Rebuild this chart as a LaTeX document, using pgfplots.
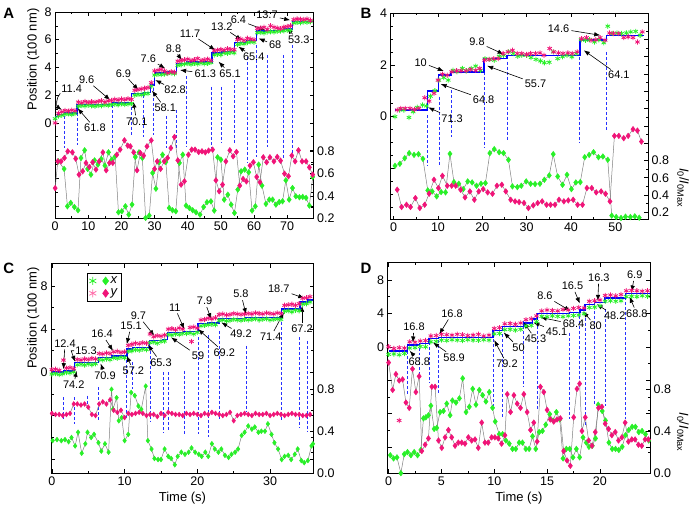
\documentclass[border=0pt]{standalone}
\usepackage{fontspec}
\setmainfont{Liberation Sans}
\usepackage{pgfplots}
\pgfplotsset{compat=1.18}
\usetikzlibrary{arrows.meta}
\definecolor{grn}{RGB}{40,240,40}
\definecolor{pnk}{RGB}{240,20,120}
\definecolor{lpnk}{RGB}{255,110,170}
\definecolor{blu}{RGB}{0,0,255}
\definecolor{dblu}{RGB}{40,50,255}
\pgfplotsset{
  panel/.style={scale only axis, clip=false, anchor=south west, enlargelimits=false,
    tick label style={font=\fontsize{12.5}{14}\selectfont},
    /pgf/number format/assume math mode=true,
    major tick length=4pt, minor tick length=2.5pt,
    every tick/.style={black, line width=0.6pt},
    axis line style={line width=0.7pt},
    label style={font=\fontsize{13}{15}\selectfont}},
  rpanel/.style={panel, axis x line=none, axis y line*=right, scaled y ticks=false,
    yticklabel style={/pgf/number format/fixed, /pgf/number format/fixed zerofill, /pgf/number format/precision=1}},
  xs/.style={only marks, mark=asterisk, mark size=2.6pt, color=grn, mark options={line width=0.8pt}},
  ys/.style={only marks, mark=asterisk, mark size=2.6pt, color=pnk, mark options={line width=0.8pt}},
  xd/.style={color=gray, line width=0.5pt, mark=diamond*, mark size=2.8pt, mark options={draw=grn, fill=grn}},
  yd/.style={color=gray, line width=0.5pt, mark=diamond*, mark size=2.8pt, mark options={draw=pnk, fill=pnk}},
  stepl/.style={color=blu, line width=1.5pt, const plot, no marks},
  vdash/.style={color=dblu, line width=1pt, dash pattern=on 3pt off 2pt, unbounded coords=jump, no marks},
}
\newcommand{\ann}[5]{\node[font=\fontsize{11}{13}\selectfont, inner sep=1pt] (a) at (axis cs:#1,#2) {#5};
  \draw[-{Latex[length=6pt,width=4.5pt]}, line width=0.6pt, shorten <=1pt] (a) -- (axis cs:#3,#4);}
\newcommand{\ratiolabel}{\textit{I}\textsubscript{0}/\textit{I}\textsubscript{0Max}}

\begin{document}
\begin{tikzpicture}
\path (0pt,0pt) rectangle (698pt,511pt);
\node[font=\fontsize{15}{15}\selectfont\bfseries] at (7.5pt,498pt) {A};
\node[font=\fontsize{15}{15}\selectfont\bfseries] at (365.5pt,498pt) {B};
\node[font=\fontsize{15}{15}\selectfont\bfseries] at (7.5pt,242pt) {C};
\node[font=\fontsize{15}{15}\selectfont\bfseries] at (365.5pt,242pt) {D};

% ---------------- Panel A ----------------
\begin{axis}[panel, at={(54pt,292pt)}, width=259pt, height=207pt,
  xmin=0, xmax=78, ymin=-6.9, ymax=8,
  xtick={0,10,...,70}, minor x tick num=1,
  ytick={-6,-4,-2,0,2,4,6,8}, yticklabels={,,,0,2,4,6,8}, minor y tick num=1,
  ylabel={Position (100 nm)}, ylabel style={at={(rel axis cs:-0.085,0.77)}, anchor=center}]
\addplot[vdash] coordinates {(2.8,0.5) (2.8,-1.8) (2.8,nan) (6.6,1.08) (6.6,-1.58) (6.6,nan)
  (17.3,1.29) (17.3,-1.8) (17.3,nan) (23.1,1.87) (23.1,-0.86) (23.1,nan) (26.6,2.0) (26.6,-1.0) (26.6,nan)
  (29.6,2.5) (29.6,-0.86) (29.6,nan) (33.5,0.5) (33.5,-1.8) (33.5,nan) (36.5,0.94) (36.5,-1.8) (36.5,nan)
  (39.7,3.38) (39.7,-1.73) (39.7,nan) (47.3,2.59) (47.3,-1.8) (47.3,nan) (50.3,2.59) (50.3,-1.44) (50.3,nan)
  (54.1,3.09) (54.1,-1.58) (54.1,nan) (57.9,4.75) (57.9,-2.81) (57.9,nan) (60.7,5.61) (60.7,-2.45) (60.7,nan)
  (64.0,4.89) (64.0,-1.73) (64.0,nan) (68.9,4.89) (68.9,-2.66) (68.9,nan) (71.6,5.61) (71.6,-2.66)};
\addplot[xs] coordinates {(0,0.3) (1,0.5) (2,0.55) (3,0.62) (4,0.66) (5,0.6) (6,0.68) (7,1.2) (8,1.25) (9,1.22)
  (10,1.28) (11,1.24) (12,1.2) (13,1.26) (14,1.23) (15,1.3) (16,1.25) (17,1.33) (18,1.35) (19,1.3)
  (20,1.38) (21,1.33) (22,1.36) (23,1.4) (24,2.0) (25,2.05) (26,2.02) (27,2.1) (28,2.12) (29,2.65)
  (30,3.45) (31,3.5) (32,3.48) (33,3.52) (34,3.56) (35,3.6) (36,3.55) (37,4.15) (38,4.2) (39,4.25)
  (40,4.28) (41,4.22) (42,4.3) (43,4.25) (44,4.32) (45,4.27) (46,4.3) (47,4.35) (48,4.9) (49,4.95)
  (50,4.92) (51,5.05) (52,5.02) (53,5.08) (54,5.05) (55,5.65) (56,5.72) (57,5.7) (58,5.8) (59,5.85)
  (60,5.82) (61,6.5) (62,6.52) (63,6.48) (64,6.55) (65,6.58) (66,6.55) (67,6.6) (68,6.62) (69,6.65)
  (70,6.68) (71,6.7) (72,7.2) (73,7.25) (74,7.22) (75,7.28) (76,7.25) (77,7.3)};
\addplot[ys] coordinates {(0,0.0) (1,0.7) (2,0.8) (3,0.9) (4,0.85) (5,0.92) (6,0.88) (7,1.5) (8,1.45) (9,1.55)
  (10,1.48) (11,1.52) (12,1.5) (13,1.55) (14,1.6) (15,1.5) (16,1.58) (17,1.62) (18,1.7) (19,1.65)
  (20,1.72) (21,1.68) (22,1.75) (23,1.7) (24,2.35) (25,2.4) (26,2.45) (27,2.5) (28,2.55) (29,2.9)
  (30,3.75) (31,3.8) (32,3.85) (33,3.75) (34,3.6) (35,3.7) (36,3.65) (37,4.45) (38,4.5) (39,4.55)
  (40,4.6) (41,4.5) (42,4.55) (43,4.65) (44,4.5) (45,4.55) (46,4.6) (47,4.5) (48,5.2) (49,5.25)
  (50,5.3) (51,5.25) (52,5.35) (53,5.3) (54,5.28) (55,6.0) (56,6.05) (57,5.95) (58,6.1) (59,6.05)
  (60,6.0) (61,6.8) (62,6.85) (63,6.9) (64,6.75) (65,7.0) (66,6.9) (67,6.85) (68,6.8) (69,6.9)
  (70,6.95) (71,7.0) (72,7.45) (73,7.5) (74,7.48) (75,7.45) (76,7.5) (77,7.4)};
\addplot[stepl] coordinates {(0,0.45) (0.8,0.6) (2.8,0.714) (6.6,1.332) (17.3,1.428) (23.1,2.129)
  (26.6,2.198) (28.7,2.75) (29.9,3.6) (33.5,3.68) (36.6,4.3) (39.7,4.4) (47.3,5.04) (50.3,5.15)
  (54.1,5.8) (57.9,5.94) (60.7,6.62) (64.0,6.68) (68.9,6.78) (71.6,7.33) (78,7.33)};
\node[font=\fontsize{11}{13}\selectfont, inner sep=1pt] (a) at (axis cs:5.0,2.49) {11.4};
\draw[-{Latex[length=6pt,width=4.5pt]}, line width=0.6pt] (a.south west) to[bend right=50] (axis cs:2.0,0.94);
\ann{12.0}{-0.38}{6.8}{1.05}{61.8}
\ann{9.5}{3.09}{16.6}{1.65}{9.6}
\ann{20.6}{3.57}{25.1}{2.37}{6.9}
\ann{24.6}{0.1}{23.6}{1.53}{70.1}
\ann{33.2}{1.06}{29.2}{2.33}{58.1}
\ann{36.2}{2.37}{30.2}{3.09}{82.8}
\ann{28.1}{4.65}{33.2}{3.93}{7.6}
\ann{35.7}{5.37}{38.2}{4.53}{8.8}
\ann{45.3}{3.57}{37.7}{3.81}{61.3}
\ann{40.7}{6.45}{48.3}{5.25}{11.7}
\ann{52.8}{3.57}{49.3}{4.41}{65.1}
\ann{50.3}{6.93}{56.3}{5.97}{13.2}
\ann{59.9}{4.77}{55.3}{5.49}{65.4}
\ann{55.3}{7.41}{63.4}{6.69}{6.4}
\ann{66.4}{5.61}{61.4}{6.09}{68}
\ann{63.9}{7.77}{70.9}{7.41}{13.7}
\ann{73.5}{5.97}{69.9}{6.81}{53.3}
\end{axis}
\begin{axis}[rpanel, at={(54pt,292pt)}, width=259pt, height=207pt,
  xmin=0, xmax=78, ymin=0.2, ymax=2.03,
  ytick={0.2,0.4,0.6,0.8}, minor ytick={0.3,0.5,0.7}]
\addplot[xd] coordinates {(1.0,0.707) (2.7,0.64) (3.7,0.309) (4.7,0.339) (5.8,0.303) (6.9,0.274) (7.8,0.737)
  (8.9,0.805) (9.8,0.64) (10.8,0.589) (11.9,0.716) (12.9,0.678) (13.9,0.728) (15.0,0.669) (16.1,0.787)
  (17.1,0.722) (18.1,0.75) (19.1,0.256) (20.1,0.265) (21.2,0.309) (22.2,0.235) (23.2,0.324) (24.2,0.746)
  (25.3,0.787) (26.3,0.737) (27.3,0.206) (28.4,0.227) (29.4,0.604) (30.4,0.465) (31.4,0.699) (32.4,0.766)
  (33.4,0.701) (34.4,0.294) (35.4,0.274) (36.4,0.265) (37.5,0.693) (38.5,0.766) (39.5,0.315) (40.5,0.294)
  (41.5,0.274) (42.5,0.256) (43.7,0.235) (44.8,0.303) (45.8,0.345) (47.0,0.353) (48.0,0.271) (49.0,0.743)
  (50.0,0.722) (51.0,0.368) (52.1,0.412) (53.1,0.324) (54.1,0.25) (55.1,0.457) (56.1,0.619) (57.2,0.634)
  (58.4,0.61) (59.4,0.271) (60.4,0.309) (61.4,0.678) (62.4,0.492) (63.6,0.33) (64.6,0.368) (65.6,0.368)
  (66.6,0.324) (67.6,0.347) (68.6,0.353) (69.6,0.539) (70.6,0.368) (71.6,0.471) (72.6,0.398) (73.7,0.389)
  (74.7,0.392) (75.7,0.383) (76.7,0.315) (77.7,0.569)};
\addplot[yd] coordinates {(0,0.47) (0.8,0.707) (1.8,0.707) (2.8,0.737) (3.8,0.796) (5.2,0.787) (6.2,0.731)
  (7.2,0.589) (8.3,0.619) (9.3,0.693) (10.3,0.657) (11.3,0.699) (12.3,0.634) (13.3,0.707) (14.4,0.787)
  (15.4,0.628) (16.4,0.693) (17.4,0.693) (18.6,0.766) (19.6,0.811) (20.9,0.893) (21.9,0.846) (22.7,0.84)
  (23.7,0.787) (24.7,0.628) (25.7,0.781) (26.7,0.758) (27.7,0.84) (29.0,0.893) (30.0,0.64) (30.8,0.707)
  (31.8,0.64) (32.9,0.707) (33.9,0.737) (34.9,0.825) (36.0,0.923) (37.0,0.716) (38.0,0.501) (39.0,0.53)
  (40.2,0.766) (41.2,0.811) (42.2,0.811) (43.3,0.79) (44.3,0.796) (45.3,0.787) (46.3,0.802) (47.5,0.811)
  (48.5,0.539) (49.5,0.442) (50.5,0.501) (51.5,0.707) (52.7,0.805) (53.7,0.752) (54.7,0.79) (55.7,0.492)
  (56.7,0.551) (57.7,0.53) (58.8,0.669) (59.8,0.699) (60.8,0.569) (61.8,0.522) (62.8,0.743) (63.8,0.699)
  (64.8,0.743) (66.0,0.707) (67.0,0.746) (68.0,0.713) (69.2,0.598) (70.4,0.575) (71.4,0.758) (72.4,0.707)
  (73.4,0.805) (74.5,0.707) (75.7,0.707) (76.7,0.654) (77.7,0.589)};
\end{axis}

% ---------------- Panel B ----------------
\begin{axis}[panel, at={(390pt,291pt)}, width=258pt, height=207pt,
  xmin=-0.7, xmax=57.4, ymin=-3.97, ymax=4,
  xtick={0,10,...,50}, minor x tick num=1,
  ytick={-2,0,2,4}, yticklabels={,0,2,4}, minor ytick={-3.5,-3,...,3.5}, ytick pos=left]
\addplot[vdash] coordinates {(7.7,0.06) (7.7,-1.92) (7.7,nan) (10.3,0.77) (10.3,-1.86) (10.3,nan)
  (13.0,1.03) (13.0,-0.77) (13.0,nan) (20.6,1.92) (20.6,-1.2) (20.6,nan) (25.7,2.12) (25.7,-0.96) (25.7,nan)
  (42.0,2.69) (42.0,-1.01) (42.0,nan) (48.0,2.5) (48.0,-0.51)};
\addplot[xs] coordinates {(0.3,0) (1.35,0.26) (2.3,0.26) (3.45,-0.03) (4.4,0.19) (5.3,0.36) (6.5,0.45) (7.4,0.41)
  (8.3,0.79) (9.3,1.0) (10.2,1.41) (11.3,1.51) (12.3,1.41) (13.4,1.79) (14.3,1.73) (15.5,1.86) (16.4,1.77)
  (17.5,1.86) (18.5,1.95) (19.6,1.79) (20.6,2.24) (21.7,2.21) (22.7,2.18) (23.8,2.33) (24.8,2.37) (25.9,2.5)
  (27.0,2.44) (28.0,2.33) (28.9,2.37) (30.0,2.37) (31.0,2.28) (32.1,2.21) (33.1,2.15) (34.0,2.08) (35.1,2.1)
  (36.0,2.5) (37.0,2.24) (38.1,2.31) (39.1,2.37) (40.2,2.31) (41.2,2.44) (42.3,2.97) (43.3,2.95) (44.2,2.97)
  (45.3,2.88) (46.3,2.97) (47.4,2.85) (48.3,3.49) (49.3,3.21) (50.4,3.23) (51.4,3.21) (52.5,3.23) (53.5,3.27)
  (54.6,3.29) (55.6,3.14)};
\addplot[ys] coordinates {(0.8,0.26) (1.6,0.32) (2.6,0.32) (3.7,0.32) (4.7,0.28) (5.7,0.32) (7.0,0.73) (8.0,0.6)
  (9.1,0.9) (10.0,1.41) (11.0,1.64) (12.1,1.6) (13.1,1.73) (14.2,1.77) (15.2,1.77) (16.3,1.77) (17.3,1.82)
  (18.5,1.79) (19.4,1.86) (20.5,2.18) (21.5,2.21) (22.6,2.24) (23.6,2.24) (24.7,2.44) (25.8,2.5) (26.8,2.56)
  (27.9,2.44) (28.9,2.44) (30.0,2.4) (30.9,2.44) (32.0,2.44) (33.0,2.46) (33.9,2.37) (35.2,2.63) (36.1,2.5)
  (37.2,2.46) (38.2,2.44) (39.3,2.46) (40.3,2.44) (41.4,2.5) (42.4,3.01) (43.5,3.05) (44.5,2.95) (45.6,2.97)
  (46.6,3.05) (47.7,2.95) (48.7,3.23) (49.6,3.21) (50.8,3.21) (51.9,3.05) (52.9,3.08) (54.0,3.05) (55.0,2.88)
  (56.1,3.27)};
\addplot[stepl] coordinates {(0.3,0.26) (7.6,0.99) (10.1,1.6) (12.9,1.73) (20.4,2.24) (25.6,2.35) (42,2.95)
  (48,3.14) (56.4,3.14)};
\ann{6.1}{2.1}{11.3}{1.76}{10}
\ann{20.3}{0.67}{10.6}{1.26}{64.8}
\ann{13.2}{-0.06}{7.8}{0.36}{71.3}
\ann{18.8}{2.88}{24.8}{2.41}{9.8}
\ann{32.0}{1.28}{21.1}{1.96}{55.7}
\ann{37.2}{3.4}{46.6}{3.14}{14.6}
\ann{50.8}{1.6}{42.9}{2.56}{64.1}
\end{axis}
\begin{axis}[rpanel, at={(390pt,291pt)}, width=258pt, height=207pt,
  xmin=-0.7, xmax=57.4, ymin=0.116, ymax=2.507,
  ytick={0.2,0.4,0.6,0.8}, extra y ticks={1.0,1.2,...,2.41}, extra y tick labels={},
  minor ytick={0.3,0.5,...,2.5}]
\node[rotate=-90, font=\fontsize{13}{15}\selectfont] at (rel axis cs:1.136,0.155) {\ratiolabel};
\addplot[xd] coordinates {(0.3,0.738) (1.4,0.762) (2.5,0.827) (3.5,0.885) (4.6,0.865) (5.6,0.873) (6.6,0.819)
  (7.7,0.454) (8.7,0.442) (9.7,0.385) (10.7,0.435) (11.7,0.431) (12.7,0.877) (13.6,0.55) (14.7,0.531)
  (15.7,0.469) (16.7,0.558) (17.7,0.546) (18.7,0.508) (19.7,0.531) (20.7,0.538) (21.7,0.885) (22.7,0.931)
  (23.8,0.896) (24.8,0.885) (25.9,0.808) (26.8,0.5) (27.9,0.492) (28.8,0.508) (29.9,0.558) (30.9,0.531)
  (31.9,0.527) (33.0,0.531) (34.0,0.577) (35.1,0.627) (36.0,0.873) (37.0,0.615) (38.1,0.519) (39.1,0.635)
  (40.1,0.469) (41.1,0.546) (42.1,0.55) (43.1,0.838) (44.1,0.865) (45.1,0.896) (46.2,0.838) (47.2,0.846)
  (48.3,0.808) (49.2,0.162) (50.2,0.146) (51.3,0.135) (52.3,0.15) (53.4,0.146) (54.4,0.154) (55.4,0.138)};
\addplot[yd] coordinates {(0.8,0.462) (1.8,0.262) (2.9,0.288) (3.8,0.262) (4.9,0.365) (5.9,0.25) (7.0,0.288)
  (8.0,0.415) (9.1,0.577) (10.1,0.481) (11.0,0.623) (12.1,0.508) (13.1,0.508) (14.0,0.508) (15.1,0.462)
  (16.1,0.373) (17.2,0.442) (18.2,0.346) (19.2,0.442) (20.2,0.469) (21.2,0.431) (22.3,0.415) (23.3,0.508)
  (24.4,0.519) (25.3,0.442) (26.4,0.346) (27.4,0.327) (28.3,0.319) (29.4,0.308) (30.4,0.25) (31.5,0.281)
  (32.5,0.308) (33.5,0.327) (34.5,0.288) (35.4,0.288) (36.4,0.288) (37.3,0.346) (38.4,0.327) (39.4,0.338)
  (40.5,0.346) (41.5,0.288) (42.6,0.288) (43.6,0.481) (44.7,0.481) (45.7,0.431) (46.8,0.442) (47.8,0.415)
  (48.8,0.327) (49.8,1.085) (50.8,1.085) (51.9,1.058) (52.9,1.085) (54.0,1.162) (55.0,1.146) (55.9,1.019)};
\end{axis}

% ---------------- Panel C ----------------
\begin{axis}[panel, at={(50pt,37pt)}, width=263pt, height=210pt,
  xmin=-0.1, xmax=36, ymin=-9.3, ymax=10.06,
  xtick={0,10,20,30}, minor x tick num=1,
  ytick={-8,-4,0,4,8}, yticklabels={,,0,4,8}, minor y tick num=1,
  xlabel={Time (s)},
  ylabel={Position (100 nm)}, ylabel style={at={(rel axis cs:-0.068,0.74)}, anchor=center}]
\addplot[vdash] coordinates {(1.6,-2.31) (1.6,-4.31) (1.6,nan) (3.1,-2.31) (3.1,-4.77) (3.1,nan)
  (4.9,-2.15) (4.9,-3.38) (4.9,nan) (6.4,-1.38) (6.4,-4.55) (6.4,nan) (10.3,1.14) (10.3,-4.31) (10.3,nan)
  (11.1,0.92) (11.1,-1.54) (11.1,nan) (13.5,2.46) (13.5,-4.55) (13.5,nan) (15.3,0) (15.3,-5.54) (15.3,nan)
  (16.0,0) (16.0,-5.38) (16.0,nan) (18.2,0.15) (18.2,-5.69) (18.2,nan) (20.1,3.23) (20.1,-5.69) (20.1,nan)
  (21.5,3.45) (21.5,-6.0) (21.5,nan) (23.0,3.85) (23.0,-4.31) (23.0,nan) (26.7,2.46) (26.7,-3.54) (26.7,nan)
  (31.6,5.08) (31.6,-4.46) (31.6,nan) (34.1,3.23) (34.1,-5.08) (34.1,nan) (35.2,2.92) (35.2,-5.54)};
\addplot[xs] coordinates {(0,-0.15) (0.5,-0.1) (1,-0.2) (1.5,-0.12) (2,0.0) (2.5,-0.05) (3,0.05) (3.5,0.7)
  (4,0.75) (4.5,0.68) (5,0.78) (5.5,0.72) (6,0.8) (6.5,1.2) (7,1.15) (7.5,1.25) (8,1.18) (8.5,1.35) (9,1.3)
  (9.5,1.4) (10,1.35) (10.5,1.95) (11,2.0) (11.5,2.1) (12,2.05) (12.5,2.15) (13,2.1) (13.5,2.75) (14,2.8)
  (14.5,2.7) (15,2.85) (15.5,2.9) (16,3.5) (16.5,3.45) (17,3.55) (17.5,3.5) (18,3.6) (18.5,3.6) (19,3.65)
  (19.5,3.55) (20,3.7) (20.5,4.3) (21,4.35) (21.5,4.4) (22,4.45) (22.5,4.4) (23,4.8) (23.5,4.85) (24,4.75)
  (24.5,4.8) (25,4.9) (25.5,4.85) (26,4.8) (26.5,4.9) (27,4.85) (27.5,4.9) (28,4.95) (28.5,4.85) (29,4.9)
  (29.5,4.95) (30,4.85) (30.5,4.9) (31,4.95) (31.5,4.9) (32,5.65) (32.5,5.7) (33,5.6) (33.5,5.75) (34,5.7)
  (34.5,6.3) (35,6.35) (35.5,6.5)};
\addplot[ys] coordinates {(0,0.25) (0.5,0.3) (1,0.2) (1.6,1.14) (2,0.4) (2.5,0.45) (3,0.35) (3.5,1.2) (4,1.15)
  (4.5,1.25) (5,1.2) (5.5,1.3) (6,1.25) (6.5,1.75) (7,1.7) (7.5,1.8) (8,1.75) (8.5,1.9) (9,1.95) (9.5,1.85)
  (10,1.9) (10.5,2.5) (11,2.6) (11.5,2.7) (12,2.65) (12.5,2.75) (13,2.7) (13.5,3.55) (14,3.3) (14.5,3.4)
  (15,3.35) (15.5,3.45) (16,4.0) (16.5,4.05) (17,3.95) (17.5,4.1) (18,4.0) (19.2,2.86) (19,4.15) (19.5,4.2)
  (20,4.1) (20.5,4.85) (21,4.9) (21.5,5.0) (22,4.95) (22.5,5.05) (23,5.35) (23.5,5.4) (24,5.3) (24.5,5.35)
  (25,5.45) (25.5,5.4) (26,5.35) (26.5,5.4) (27,5.45) (27.5,5.4) (28,5.5) (28.5,5.45) (29,5.4) (29.5,5.5)
  (30,5.45) (30.5,5.4) (31,5.5) (31.5,5.45) (32,6.2) (32.5,6.25) (33,6.3) (33.5,6.2) (34,6.35) (34.5,6.85)
  (35,6.9) (35.5,7.0)};
\addplot[stepl] coordinates {(0,0.02) (1.6,0.14) (3.1,0.9) (4.9,0.93) (6.4,1.38) (8.3,1.54) (10.3,2.15)
  (11.1,2.3) (13.4,2.95) (15.3,3.05) (15.9,3.68) (18.2,3.8) (20.1,4.5) (21.5,4.58) (23.0,5.0) (26.7,5.06)
  (31.6,5.85) (34.1,6.5) (35.2,6.68) (36,6.68)};
\ann{1.8}{2.68}{1.6}{0.3}{12.4}
\node[font=\fontsize{11}{13}\selectfont, inner sep=1pt] (a) at (axis cs:4.7,2.0) {15.3};
\draw[-{Latex[length=6pt,width=4.5pt]}, line width=0.6pt] (a.west) -- ++(-3pt,0pt) -- (axis cs:3.2,0.98);
\ann{3.0}{-1.17}{3.4}{0.15}{74.2}
\ann{7.3}{-0.3}{6.7}{0.83}{70.9}
\ann{6.9}{3.54}{8.4}{2.0}{16.4}
\ann{11.2}{0.15}{10.3}{1.54}{57.2}
\ann{10.9}{4.31}{10.3}{2.62}{15.1}
\ann{11.9}{5.23}{14.1}{3.38}{9.7}
\ann{15.0}{0.92}{13.2}{2.55}{65.3}
\ann{16.9}{6.0}{18.2}{4.0}{11}
\ann{20.1}{1.54}{16.4}{3.23}{59}
\ann{21.0}{6.6}{21.9}{4.92}{7.9}
\ann{23.7}{1.85}{20.1}{4.0}{69.2}
\ann{26.0}{7.23}{26.7}{5.38}{5.8}
\ann{26.0}{3.54}{23.3}{4.62}{49.2}
\ann{31.2}{7.69}{34.7}{6.86}{18.7}
\ann{30.1}{3.29}{31.9}{5.54}{71.4}
\ann{34.4}{4.0}{34.4}{6.15}{67.2}
\end{axis}
\begin{axis}[rpanel, at={(50pt,37pt)}, width=263pt, height=210pt,
  xmin=-0.1, xmax=36, ymin=0, ymax=2.0,
  ytick={0,0.4,0.8}, minor ytick={0.2,0.6},
  legend style={at={(rel axis cs:0.137,0.957)}, anchor=north west, draw=black, line width=0.5pt,
    font=\fontsize{13}{14}\selectfont, inner sep=2pt, row sep=0pt}, legend cell align=left]
\addlegendimage{legend image code/.code={
  \draw[grn, line width=0.8pt] plot[mark=asterisk, mark size=4pt] coordinates {(0.15cm,0cm)};
  \draw[grn] plot[mark=diamond*, mark size=4pt, mark options={fill=grn}] coordinates {(0.6cm,0cm)};}}
\addlegendimage{legend image code/.code={
  \draw[lpnk, line width=0.8pt] plot[mark=asterisk, mark size=4pt] coordinates {(0.15cm,0cm)};
  \draw[pnk] plot[mark=diamond*, mark size=4pt, mark options={fill=pnk}] coordinates {(0.6cm,0cm)};}}
\legend{\textit{x},\textit{y}}
\addplot[xd, mark size=2.4pt] coordinates {(0.1,0.31) (0.7,0.32) (1.3,0.31) (1.8,0.32) (2.3,0.3) (2.7,0.34)
  (3.2,0.26) (3.6,0.39) (4.1,0.19) (4.6,0.28) (4.9,0.39) (5.4,0.34) (5.8,0.37) (6.4,0.29) (6.8,0.21) (7.3,0.28)
  (7.8,0.2) (8.2,0.8) (8.4,0.61) (8.9,0.72) (9.2,0.5) (9.6,0.53) (10.0,0.31) (10.5,0.37) (10.9,0.77) (11.4,0.74)
  (11.9,0.64) (12.3,0.61) (12.9,0.83) (13.2,0.31) (13.7,0.23) (14.1,0.14) (14.6,0.13) (15.0,0.13) (15.5,0.23)
  (16.0,0.16) (16.4,0.14) (16.9,0.08) (17.3,0.16) (17.8,0.2) (18.3,0.18) (18.8,0.2) (19.2,0.24) (19.7,0.2)
  (20.2,0.18) (20.6,0.16) (21.1,0.2) (21.5,0.16) (22.0,0.28) (22.4,0.23) (22.9,0.2) (23.3,0.23) (23.8,0.17)
  (24.3,0.15) (24.7,0.18) (25.2,0.2) (25.6,0.23) (26.1,0.36) (26.5,0.39) (27.0,0.45) (27.5,0.42) (27.9,0.44)
  (28.4,0.39) (28.8,0.4) (29.3,0.4) (29.7,0.47) (30.2,0.37) (30.6,0.29) (31.1,0.23) (31.6,0.13) (32.0,0.16)
  (32.5,0.17) (32.9,0.13) (33.4,0.18) (33.8,0.23) (34.3,0.12) (34.7,0.1) (35.2,0.12) (35.7,0.26) (35.9,0.28)};
\addplot[yd, mark size=2.4pt] coordinates {(0,0.57) (0.5,0.56) (1,0.56) (1.5,0.55) (2,0.56) (2.5,0.57) (3,0.66)
  (3.5,0.66) (4,0.65) (4.5,0.66) (5,0.63) (5.5,0.56) (6,0.55) (6.5,0.66) (7,0.68) (7.5,0.66) (8,0.7) (8.5,0.6)
  (9,0.58) (9.5,0.6) (10,0.53) (10.5,0.57) (11,0.56) (11.5,0.57) (12,0.58) (12.5,0.57) (13,0.55) (13.5,0.56)
  (14,0.56) (14.5,0.54) (15,0.57) (15.5,0.55) (16,0.58) (16.5,0.57) (17,0.56) (17.5,0.56) (18,0.55) (18.5,0.57)
  (19,0.56) (19.5,0.57) (20,0.56) (20.5,0.55) (21,0.57) (21.5,0.56) (22,0.58) (22.5,0.57) (23,0.56) (23.5,0.55)
  (24,0.56) (24.5,0.58) (25,0.5) (25.5,0.55) (26,0.56) (26.5,0.57) (27,0.56) (27.5,0.55) (28,0.57) (28.5,0.56)
  (29,0.56) (29.5,0.57) (30,0.55) (30.5,0.56) (31,0.57) (31.5,0.56) (32,0.55) (32.5,0.56) (33,0.57) (33.5,0.56)
  (34,0.56) (34.5,0.55) (35,0.55) (35.5,0.56)};
\end{axis}

% ---------------- Panel D ----------------
\begin{axis}[panel, at={(387pt,37pt)}, width=263pt, height=211pt,
  xmin=-0.1, xmax=24.75, ymin=-15.1, ymax=10.08,
  xtick={0,5,...,20}, minor x tick num=1,
  ytick={-12,-8,-4,0,4,8}, yticklabels={,,,0,4,8}, minor y tick num=1,
  xlabel={Time (s)}]
\addplot[vdash] coordinates {(1.79,-0.48) (1.79,-5.66) (1.79,nan) (2.89,-0.08) (2.89,-3.47) (2.89,nan)
  (3.84,0.52) (3.84,-4.26) (3.84,nan) (4.69,0.8) (4.69,-5.46) (4.69,nan) (9.91,1.51) (9.91,-7.05) (9.91,nan)
  (10.75,1.51) (10.75,-8.45) (10.75,nan) (12.8,3.1) (12.8,-4.86) (12.8,nan) (14.06,3.1) (14.06,-7.45) (14.06,nan)
  (17.14,1.71) (17.14,-8.65) (17.14,nan) (18.08,4.3) (18.08,-3.86) (18.08,nan) (18.62,4.1) (18.62,-9.44) (18.62,nan)
  (19.5,4.3) (19.5,-6.85) (19.5,nan) (20.5,4.5) (20.5,-7.05) (20.5,nan) (22.39,5.9) (22.39,-8.65)};
\addplot[xs] coordinates {(0,-0.9) (0.5,-0.85) (1,-0.95) (1.5,-0.8) (2,-0.15) (2.5,-0.1) (3,0.05) (3.5,0.0)
  (4,0.6) (4.5,0.65) (5,0.8) (5.5,0.75) (6,0.85) (6.5,0.8) (7,0.75) (7.5,0.85) (8,0.8) (8.5,0.78) (9,0.85)
  (9.5,0.8) (10,1.55) (10.5,1.6) (11,2.05) (11.5,2.1) (12,2.0) (12.5,2.1) (13,2.5) (13.5,2.55) (14,3.0)
  (14.5,3.65) (15,3.6) (15.5,3.7) (16,3.65) (16.5,3.6) (17,3.7) (17.5,3.75) (18,3.8) (18.5,3.95) (19,4.7)
  (19.5,4.75) (20,4.9) (20.5,5.45) (21,5.5) (21.5,5.45) (22,5.5) (22.5,6.0) (23,6.05) (23.5,6.0) (24,6.1)
  (24.5,6.05)};
\addplot[ys] coordinates {(0,0.0) (0.5,-0.2) (1,-0.1) (1.5,-0.15) (2,0.6) (2.5,0.55) (3,0.7) (3.5,0.75)
  (4,1.3) (4.5,1.35) (5,1.5) (5.5,1.45) (6,1.4) (6.5,1.5) (7,1.45) (7.5,1.35) (8,1.4) (8.5,1.5) (9,1.3)
  (9.5,1.4) (10,2.2) (10.5,2.3) (11,2.75) (11.5,2.8) (12,2.7) (12.5,2.85) (13,3.25) (13.5,3.35) (14,3.7)
  (14.5,4.3) (15,4.4) (15.5,4.35) (16,4.3) (16.5,4.45) (17,4.4) (17.5,4.6) (18,4.7) (18.5,4.65) (19,5.45)
  (19.5,5.5) (20,5.6) (20.5,6.15) (21,6.2) (21.5,6.1) (22,6.25) (22.5,6.7) (23,6.75) (23.5,6.7) (24,6.65)
  (24.5,6.7) (1.0,-8.8)};
\addplot[stepl] coordinates {(0,-0.48) (1.8,0.21) (2.9,0.38) (3.8,0.97) (4.7,1.14) (9.9,1.93) (10.8,2.43)
  (12.8,2.88) (13.6,3.33) (14.06,4.01) (17.1,4.1) (18.1,4.4) (18.6,5.07) (19.5,5.3) (20.5,5.85) (22.4,6.35)
  (23.0,6.4) (24.75,6.4)};
\ann{2.4}{2.39}{2.3}{0.52}{16.8}
\ann{2.9}{-1.75}{2.0}{-0.48}{68.8}
\ann{6.0}{3.98}{4.8}{1.51}{16.8}
\ann{6.2}{-1.27}{4.2}{0.52}{58.9}
\ann{11.2}{-2.07}{10.0}{0.8}{79.2}
\ann{12.3}{-0.08}{10.9}{1.71}{50}
\ann{13.9}{0.92}{12.8}{2.91}{45.3}
\ann{15.9}{1.83}{13.7}{2.91}{45.1}
\ann{14.8}{6.1}{17.2}{4.3}{8.6}
\ann{17.5}{2.71}{14.4}{3.51}{68.4}
\ann{17.4}{7.29}{18.1}{5.18}{16.5}
\ann{19.6}{2.51}{18.4}{4.22}{80}
\ann{19.9}{8.29}{19.8}{5.5}{16.3}
\ann{21.4}{3.71}{19.7}{5.1}{48.2}
\ann{23.3}{8.6}{23.0}{6.61}{6.9}
\ann{23.5}{3.98}{22.8}{5.98}{68.8}
\end{axis}
\begin{axis}[rpanel, at={(387pt,37pt)}, width=263pt, height=211pt,
  xmin=-0.1, xmax=24.75, ymin=0, ymax=2.0,
  ytick={0,0.4,0.8}, minor ytick={0.2,0.6}]
\node[rotate=-90, font=\fontsize{13}{15}\selectfont] at (rel axis cs:1.125,0.194) {\ratiolabel};
\addplot[xd] coordinates {(0.16,0.17) (0.47,0.14) (0.79,0.15) (1.16,0.0) (1.48,0.18) (1.79,0.2) (2.11,0.17)
  (2.42,0.2) (2.74,0.17) (3.05,0.22) (3.3,0.52) (3.52,0.53) (3.77,0.55) (4.0,0.64) (4.31,0.42) (4.56,0.43)
  (4.87,0.58) (5.19,0.59) (5.5,0.66) (5.82,0.55) (6.04,0.69) (6.38,0.67) (6.7,0.71) (7.01,0.9) (7.33,0.58)
  (7.64,0.63) (7.96,0.8) (8.27,0.65) (8.58,0.79) (8.9,0.74) (9.21,0.68) (9.53,0.77) (9.84,0.62) (10.09,0.49)
  (10.47,0.37) (10.79,0.37) (11.1,0.31) (11.42,0.28) (11.73,0.23) (12.04,0.23) (12.36,0.29) (12.67,0.29)
  (12.99,0.23) (13.3,0.23) (13.62,0.35) (13.93,0.23) (14.25,0.39) (14.56,0.4) (14.87,0.46) (15.25,0.56)
  (15.57,0.5) (15.88,0.58) (16.2,0.51) (16.51,0.14) (16.82,0.23) (17.14,0.23) (17.45,0.15) (17.77,0.23)
  (18.08,0.15) (18.4,0.34) (18.71,0.29) (18.96,0.25) (19.28,0.26) (19.59,0.33) (19.84,0.65) (20.22,0.59)
  (20.53,0.5) (20.85,0.29) (21.16,0.23) (21.48,0.23) (21.79,0.22) (22.11,0.25) (22.42,0.36) (22.74,0.41)
  (23.05,0.44) (23.36,0.44) (23.68,0.39) (23.99,0.4) (24.31,0.37) (24.62,0.31)};
\addplot[yd] coordinates {(0.0,1.05) (0.38,0.79) (0.69,0.94) (1.0,0.88) (1.32,0.89) (1.64,0.67) (1.95,0.62)
  (2.26,0.99) (2.58,0.77) (2.89,0.92) (3.14,0.21) (3.46,0.27) (3.77,0.33) (4.09,0.82) (4.4,0.82) (4.72,0.31)
  (5.03,0.24) (5.35,0.34) (5.66,0.41) (5.97,0.34) (6.29,0.26) (6.6,0.29) (6.92,0.29) (7.23,0.28) (7.55,0.34)
  (7.86,0.31) (8.18,0.32) (8.49,0.24) (8.81,0.48) (9.12,0.29) (9.43,0.29) (9.75,0.34) (10.06,0.34) (10.38,0.33)
  (10.69,0.28) (11.01,0.36) (11.23,0.75) (11.54,0.58) (11.86,0.74) (12.17,0.66) (12.48,0.62) (12.8,0.75)
  (13.11,0.58) (13.43,0.41) (13.74,0.48) (14.06,0.3) (14.37,0.82) (14.69,0.77) (15.0,0.6) (15.31,0.51)
  (15.63,0.49) (15.94,0.51) (16.26,0.52) (16.57,0.21) (16.89,0.12) (17.2,0.07) (17.52,0.53) (17.83,0.8)
  (18.08,0.85) (18.3,0.4) (18.62,0.53) (18.93,0.31) (19.25,0.26) (19.56,0.39) (19.87,0.62) (20.19,0.63)
  (20.5,0.47) (20.82,0.42) (21.13,0.36) (21.45,0.39) (21.76,0.31) (22.08,0.34) (22.39,0.48) (22.7,0.3)
  (23.02,0.32) (23.33,0.32) (23.65,0.27) (23.96,0.26) (24.28,0.32) (24.59,0.32)};
\end{axis}
\end{tikzpicture}
\end{document}
